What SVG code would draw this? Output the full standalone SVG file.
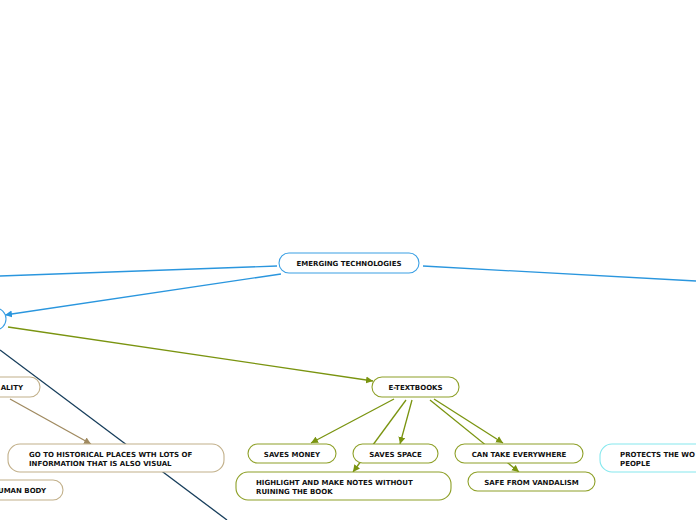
<svg xmlns="http://www.w3.org/2000/svg" width="696" height="520" viewBox="0 0 696 520">
<defs>
<style>
.t{font-family:"DejaVu Sans",Verdana,sans-serif;font-weight:bold;font-size:7px;fill:#111}
.n{fill:#fff;stroke-width:1.1}
.nb{stroke:#3a9fe4}
.no{stroke:#8ea028}
.nt{stroke:#c2b08a}
.nc{stroke:#86e8ee}
.c{fill:none;stroke-width:1.3}
.cb{stroke:#2a96de}
.co{stroke:#7a9410}
.ct{stroke:#a08a60}
.cn{stroke:#173e5c}
</style>
<marker id="ab" markerWidth="8" markerHeight="8" refX="7" refY="4" orient="auto" markerUnits="userSpaceOnUse"><path d="M0,0.5 L7,4 L0,7.5 Z" fill="#2a96de"/></marker>
<marker id="ao" markerWidth="8" markerHeight="8" refX="7" refY="4" orient="auto" markerUnits="userSpaceOnUse"><path d="M0,0.5 L7,4 L0,7.5 Z" fill="#7a9410"/></marker>
<marker id="at" markerWidth="8" markerHeight="8" refX="7" refY="4" orient="auto" markerUnits="userSpaceOnUse"><path d="M0,0.5 L7,4 L0,7.5 Z" fill="#a08a60"/></marker>
</defs>
<rect width="696" height="520" fill="#fff"/>
<g id="connectors">
<line class="c cb" x1="277" y1="266" x2="0" y2="276"/>
<line class="c cb" x1="423" y1="266" x2="696" y2="281"/>
<line class="c cb" x1="281" y1="274" x2="5" y2="315" marker-end="url(#ab)"/>
<line class="c co" x1="8" y1="327" x2="373" y2="381" marker-end="url(#ao)"/>
<line class="c cn" x1="0" y1="350" x2="227" y2="520"/>
<line class="c ct" x1="10" y1="399" x2="91" y2="444" marker-end="url(#at)"/>
<line class="c co" x1="394" y1="399" x2="311" y2="443" marker-end="url(#ao)"/>
<line class="c co" x1="406" y1="400" x2="353" y2="472" marker-end="url(#ao)"/>
<line class="c co" x1="412" y1="400" x2="400" y2="444" marker-end="url(#ao)"/>
<line class="c co" x1="430" y1="400" x2="519" y2="472" marker-end="url(#ao)"/>
<line class="c co" x1="434" y1="399" x2="503" y2="443" marker-end="url(#ao)"/>
</g>
<g id="emerging-technologies">
<rect class="n nb" x="279" y="253" width="140" height="20" rx="10"/>
<text class="t" x="349" y="266" text-anchor="middle">EMERGING TECHNOLOGIES</text>
</g>
<g id="left-node">
<rect class="n nb" x="-40" y="308" width="46" height="22" rx="11"/>
</g>
<g id="reality">
<rect class="n nt" x="-60" y="377" width="100" height="20" rx="10"/>
<text class="t" x="23" y="390" text-anchor="end">ALITY</text>
</g>
<g id="historical-places">
<rect class="n nt" x="8" y="444" width="216" height="28" rx="12"/>
<text class="t" x="29" y="457">GO TO HISTORICAL PLACES WTH LOTS OF</text>
<text class="t" x="29" y="466">INFORMATION THAT IS ALSO VISUAL</text>
</g>
<g id="human-body">
<rect class="n nt" x="-60" y="480" width="123" height="20" rx="10"/>
<text class="t" x="46" y="493" text-anchor="end">UMAN BODY</text>
</g>
<g id="e-textbooks">
<rect class="n no" x="372" y="377" width="87" height="20" rx="10"/>
<text class="t" x="415.5" y="390" text-anchor="middle">E-TEXTBOOKS</text>
</g>
<g id="saves-money">
<rect class="n no" x="248" y="444" width="88" height="19" rx="9.5"/>
<text class="t" x="292" y="456.5" text-anchor="middle">SAVES MONEY</text>
</g>
<g id="saves-space">
<rect class="n no" x="353" y="444" width="85" height="19" rx="9.5"/>
<text class="t" x="395.5" y="456.5" text-anchor="middle">SAVES SPACE</text>
</g>
<g id="highlight">
<rect class="n no" x="236" y="472" width="215" height="28" rx="12"/>
<text class="t" x="256" y="485">HIGHLIGHT AND MAKE NOTES WITHOUT</text>
<text class="t" x="256" y="494">RUINING THE BOOK</text>
</g>
<g id="can-take-everywhere">
<rect class="n no" x="455" y="444" width="128" height="19" rx="9.5"/>
<text class="t" x="519" y="456.5" text-anchor="middle">CAN TAKE EVERYWHERE</text>
</g>
<g id="safe-from-vandalism">
<rect class="n no" x="468" y="472" width="127" height="19" rx="9.5"/>
<text class="t" x="531.5" y="484.5" text-anchor="middle">SAFE FROM VANDALISM</text>
</g>
<g id="protects">
<rect class="n nc" x="600" y="444" width="130" height="28" rx="12"/>
<text class="t" x="620" y="457">PROTECTS THE WO</text>
<text class="t" x="620" y="466">PEOPLE</text>
</g>
</svg>
